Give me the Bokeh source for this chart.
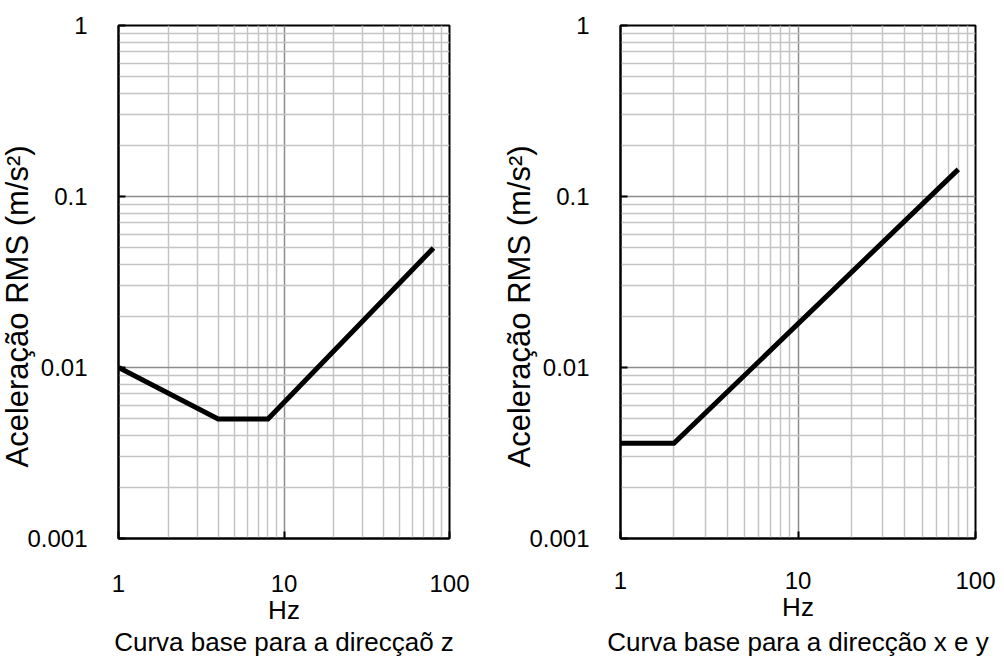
from bokeh.plotting import figure
from bokeh.layouts import row
from bokeh.models import FixedTicker, CustomJSTickFormatter, Title
from bokeh.embed import file_html
from bokeh.resources import INLINE

# ---- data ----
z_freq = [1, 4, 8, 80]
z_acc = [0.01, 0.005, 0.005, 0.05]
xy_freq = [1, 2, 80]
xy_acc = [0.0036, 0.0036, 0.144]

x_major = [1, 10, 100]
x_minor = [2, 3, 4, 5, 6, 7, 8, 9, 20, 30, 40, 50, 60, 70, 80, 90]
y_major = [0.001, 0.01, 0.1, 1]
y_minor = [m * d for d in (0.001, 0.01, 0.1) for m in range(2, 10)]

x_label = "Hz"
y_label = "Aceleração RMS (m/s²)"
captions = ["Curva base para a direcçaõ z", "Curva base para a direcção x e y"]

FONT = "Liberation Sans"


def make(freq, acc, caption, border_right, border_bottom, x_standoff,
         hz_standoff, cap_standoff):
    p = figure(width=502, height=657, x_axis_type="log", y_axis_type="log",
               x_range=(1, 100), y_range=(0.001, 1),
               output_backend="svg", toolbar_location=None,
               min_border_left=118, min_border_right=border_right,
               min_border_top=25, min_border_bottom=border_bottom)
    p.background_fill_color = "white"
    p.border_fill_color = "white"
    p.outline_line_color = "black"
    p.outline_line_width = 2

    p.xaxis.ticker = FixedTicker(ticks=x_major, minor_ticks=x_minor)
    p.yaxis.ticker = FixedTicker(ticks=y_major, minor_ticks=y_minor)
    fmt = "return String(tick);"
    p.xaxis.formatter = CustomJSTickFormatter(code=fmt)
    p.yaxis.formatter = CustomJSTickFormatter(code=fmt)

    for ax in (p.xaxis, p.yaxis):
        ax.axis_line_color = "black"
        ax.axis_line_width = 2
        ax.major_tick_in = 7
        ax.major_tick_out = 0
        ax.major_tick_line_color = "black"
        ax.major_tick_line_width = 2
        ax.minor_tick_line_color = None
        ax.major_label_text_font = FONT
        ax.major_label_text_font_size = "24px"
        ax.major_label_text_color = "black"
        ax.axis_label_text_font = FONT
        ax.axis_label_text_font_style = "normal"
        ax.axis_label_text_color = "black"

    p.xaxis.major_label_standoff = x_standoff
    p.xaxis.axis_label = x_label
    p.xaxis.axis_label_text_font_size = "26px"
    p.xaxis.axis_label_standoff = hz_standoff
    p.yaxis.major_label_standoff = 27

    for g in (p.xgrid, p.ygrid):
        g.grid_line_color = "#8c8c8c"
        g.grid_line_width = 1.5
        g.minor_grid_line_color = "#c4c4c4"
        g.minor_grid_line_width = 1.5

    p.line(freq, acc, line_color="black", line_width=5, line_join="miter")

    yt = Title(text=y_label, align="left", text_font=FONT,
               text_font_size="31px", text_font_style="normal",
               text_color="black", standoff=-21, offset=71)
    p.add_layout(yt, "left")
    # thin empty margin strip so the title sits a little away from the edge
    spacer = Title(text=" ", text_font_size="5px", standoff=0)
    p.add_layout(spacer, "left")

    t = Title(text=caption, align="center", text_font=FONT,
              text_font_size="26px", text_font_style="normal",
              text_color="black", standoff=cap_standoff, offset=0)
    p.add_layout(t, "below")
    return p


p1 = make(z_freq, z_acc, captions[0], 53, 116, 32, 0, -5)
p2 = make(xy_freq, xy_acc, captions[1], 29, 119, 29, 0, 0)

layout = row(p1, p2)
open("out.html", "w").write(file_html(layout, INLINE))
